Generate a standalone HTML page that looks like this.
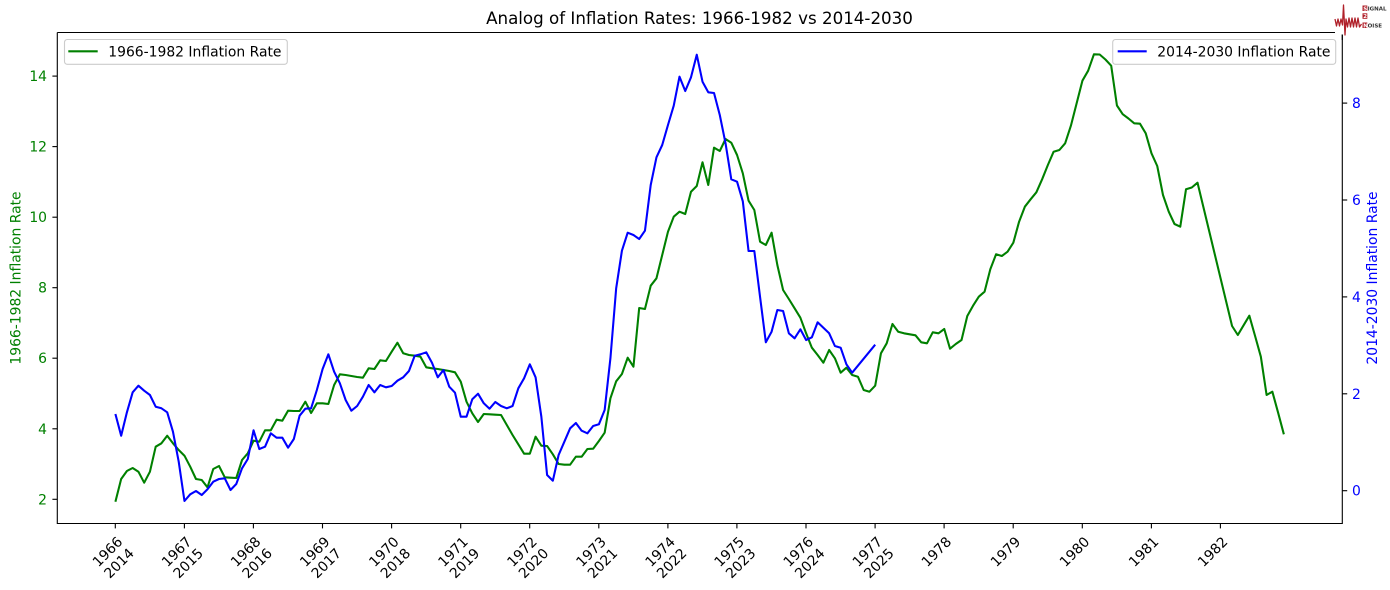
<!DOCTYPE html>
<html>
<head>
<meta charset="utf-8">
<style>
  html, body { margin: 0; padding: 0; background: #ffffff; }
  svg { display: block; }
  text { font-family: "DejaVu Sans", "Liberation Sans", sans-serif; }
</style>
</head>
<body>
<svg width="1390" height="590" viewBox="0 0 1390 590" xmlns="http://www.w3.org/2000/svg">
  <rect x="0" y="0" width="1390" height="590" fill="#ffffff"/>

  <!-- Title -->
  <text x="699.5" y="24" font-size="16.7" text-anchor="middle" fill="#000">Analog of Inflation Rates: 1966-1982 vs 2014-2030</text>

  <!-- Series (x = 115.4 + 5.756*i) -->
  <g transform="translate(115.4,0) scale(5.756,1)">
    <polyline fill="none" stroke="#008000" stroke-width="2.08" stroke-linejoin="round" vector-effect="non-scaling-stroke"
      points="0,501.7 1,479 2,471 3,468 4,471.7 5,482.7 6,471.7 7,446.7 8,443.3 9,435.7 10,443.3 11,450 12,455.7 13,466.7 14,479 15,480 16,487.3 17,469 18,466 19,477.3 20,477.7 21,478 22,460 23,453.3 24,440.7 25,441.7 26,430.3 27,430.3 28,419.7 29,420.7 30,410.7 31,411 32,411 33,401.7 34,413 35,403.3 36,403.3 37,404 38,385 39,374.3 40,375 41,376 42,377 43,377.7 44,368.3 45,369 46,360.3 47,361 48,351.7 49,342.7 50,353.3 51,355 52,355.7 53,356.7 54,367.3 55,368.3 56,369 57,370 58,371 59,372.3 60,381.7 61,401.7 62,413.3 63,422 64,414 65,414.3 66,414.7 67,415 68,425 69,435 70,444.3 71,453.7 72,453.7 73,436.7 74,445.7 75,446 76,454.3 77,464 78,464.7 79,464.7 80,456.7 81,456.7 82,449 83,448.7 84,441 85,432.7 86,398.3 87,381.3 88,374 89,357.7 90,366.7 91,308 92,309 93,285.7 94,278.3 95,255 96,231.7 97,216.7 98,211.7 99,214 100,191.7 101,186 102,162.3 103,185 104,147.7 105,151 106,139 107,142.7 108,155 109,173.3 110,200.7 111,210 112,241.7 113,245 114,232.7 115,265 116,290 117,299 118,308.3 119,317.7 120,333.3 121,347.7 122,355 123,362.7 124,350 125,358.3 126,372.7 127,367.7 128,375 129,376.7 130,390 131,391.7 132,385.7 133,353.3 134,343.3 135,324 136,331.7 137,333.3 138,334.3 139,335.3 140,342.3 141,343.3 142,332.3 143,333.3 144,329 145,348.7 146,344 147,340 148,316 149,305.7 150,296.7 151,291.7 152,269.3 153,254.3 154,256 155,251.7 156,242.7 157,221.7 158,206.7 159,199.3 160,192.3 161,179.3 162,165 163,151.7 164,150 165,143.3 166,125.7 167,103.3 168,80.7 169,70.7 170,54.3 171,54.5 172,59.5 173,65.7 174,105.5 175,114.2 176,118.5 177,123.3 178,123.7 179,133.3 180,153.3 181,166 182,195 183,211.7 184,224 185,226.7 186,189.3 187,187.5 188,182.7 189,206.6 190,230.5 191,254.4 192,278.2 193,302.1 194,326 195,335 196,325.3 197,315.7 198,336 199,356.7 200,395 201,391.7 202,412.7 203,434.3"/>
    <polyline fill="none" stroke="#0000ff" stroke-width="2.08" stroke-linejoin="round" vector-effect="non-scaling-stroke"
      points="0,414 1,435.7 2,412.3 3,392.3 4,385.7 5,390.7 6,395 7,406.7 8,408.3 9,412.3 10,431.7 11,461.7 12,501 13,494.3 14,491 15,495 16,489.3 17,481.7 18,479 19,478.3 20,490 21,484 22,468.3 23,459 24,430.3 25,449 26,446.7 27,433.3 28,437.7 29,437.7 30,447.7 31,439 32,415.7 33,408.7 34,408.3 35,390 36,369 37,354.3 38,371.7 39,383.3 40,400 41,410.7 42,406 43,396.7 44,385 45,392.3 46,385 47,387.3 48,386 49,380.7 50,377.3 51,371 52,355.7 53,354.3 54,352.3 55,362.7 56,377.3 57,370 58,386.7 59,392.7 60,416.7 61,416.7 62,399.3 63,393.7 64,403.3 65,408.7 66,402 67,406 68,408.3 69,406 70,388.3 71,378.3 72,364.3 73,377.3 74,416.7 75,475 76,480.7 77,455 78,441.7 79,428.3 80,423 81,430.7 82,433.3 83,426 84,424.3 85,410 86,358.3 87,288.3 88,250.7 89,232.7 90,235 91,239 92,230.7 93,185 94,157.3 95,145 96,125 97,105.7 98,76.7 99,91 100,77.3 101,54.7 102,81.7 103,92.3 104,93 105,115 106,143.3 107,179.3 108,181.7 109,201.3 110,251 111,251 112,297 113,342.3 114,331.7 115,310 116,311 117,333.3 118,338.3 119,329.3 120,340 121,337.3 122,322.3 123,327.7 124,333.3 125,346 126,347.7 127,364.3 128,372.7 129,365.7 130,358.7 131,351.7 132,344.7"/>
  </g>

  <!-- Spines -->
  <g stroke="#000" stroke-width="1.11" fill="none">
    <line x1="57.3" y1="32.5" x2="57.3" y2="524"/>
    <line x1="1342.3" y1="32.5" x2="1342.3" y2="524"/>
    <line x1="57.3" y1="523.5" x2="1342.3" y2="523.5"/>
    <line x1="57.3" y1="32.5" x2="1342.3" y2="32.5"/>
  </g>

  <!-- Left y ticks -->
  <g stroke="#000" stroke-width="1.11">
    <line x1="52.4" y1="499.3" x2="57.3" y2="499.3"/>
    <line x1="52.4" y1="428.8" x2="57.3" y2="428.8"/>
    <line x1="52.4" y1="358.2" x2="57.3" y2="358.2"/>
    <line x1="52.4" y1="287.7" x2="57.3" y2="287.7"/>
    <line x1="52.4" y1="217.2" x2="57.3" y2="217.2"/>
    <line x1="52.4" y1="146.6" x2="57.3" y2="146.6"/>
    <line x1="52.4" y1="76.1" x2="57.3" y2="76.1"/>
  </g>
  <g font-size="13.9" fill="#008000" text-anchor="end">
    <text x="47" y="504.3">2</text>
    <text x="47" y="433.8">4</text>
    <text x="47" y="363.2">6</text>
    <text x="47" y="292.7">8</text>
    <text x="47" y="222.2">10</text>
    <text x="47" y="151.6">12</text>
    <text x="47" y="81.1">14</text>
  </g>

  <!-- Right y ticks -->
  <g stroke="#000" stroke-width="1.11">
    <line x1="1342.3" y1="490.7" x2="1347.2" y2="490.7"/>
    <line x1="1342.3" y1="393.8" x2="1347.2" y2="393.8"/>
    <line x1="1342.3" y1="296.9" x2="1347.2" y2="296.9"/>
    <line x1="1342.3" y1="200" x2="1347.2" y2="200"/>
    <line x1="1342.3" y1="103.1" x2="1347.2" y2="103.1"/>
  </g>
  <g font-size="13.9" fill="#0000ff" text-anchor="start">
    <text x="1352" y="495.7">0</text>
    <text x="1352" y="398.8">2</text>
    <text x="1352" y="301.9">4</text>
    <text x="1352" y="205">6</text>
    <text x="1352" y="108.1">8</text>
  </g>

  <!-- Axis labels -->
  <text transform="translate(20.7,278) rotate(-90)" font-size="13.9" fill="#008000" text-anchor="middle">1966-1982 Inflation Rate</text>
  <text transform="translate(1377,278) rotate(-90)" font-size="13.9" fill="#0000ff" text-anchor="middle">2014-2030 Inflation Rate</text>

  <!-- X ticks -->
  <g stroke="#000" stroke-width="1.11">
    <line x1="115.3" y1="523.5" x2="115.3" y2="528.4"/>
    <line x1="184.4" y1="523.5" x2="184.4" y2="528.4"/>
    <line x1="253.4" y1="523.5" x2="253.4" y2="528.4"/>
    <line x1="322.5" y1="523.5" x2="322.5" y2="528.4"/>
    <line x1="391.6" y1="523.5" x2="391.6" y2="528.4"/>
    <line x1="460.7" y1="523.5" x2="460.7" y2="528.4"/>
    <line x1="529.7" y1="523.5" x2="529.7" y2="528.4"/>
    <line x1="598.8" y1="523.5" x2="598.8" y2="528.4"/>
    <line x1="667.9" y1="523.5" x2="667.9" y2="528.4"/>
    <line x1="736.9" y1="523.5" x2="736.9" y2="528.4"/>
    <line x1="806" y1="523.5" x2="806" y2="528.4"/>
    <line x1="875.1" y1="523.5" x2="875.1" y2="528.4"/>
    <line x1="944.1" y1="523.5" x2="944.1" y2="528.4"/>
    <line x1="1013.2" y1="523.5" x2="1013.2" y2="528.4"/>
    <line x1="1082.3" y1="523.5" x2="1082.3" y2="528.4"/>
    <line x1="1151.4" y1="523.5" x2="1151.4" y2="528.4"/>
    <line x1="1220.4" y1="523.5" x2="1220.4" y2="528.4"/>
  </g>
  <g font-size="13.9" fill="#000" text-anchor="middle">
    <g transform="translate(113.1,557.3) rotate(-45)"><text x="0" y="-3.1">1966</text><text x="0" y="13.2">2014</text></g>
    <g transform="translate(182.2,557.3) rotate(-45)"><text x="0" y="-3.1">1967</text><text x="0" y="13.2">2015</text></g>
    <g transform="translate(251.2,557.3) rotate(-45)"><text x="0" y="-3.1">1968</text><text x="0" y="13.2">2016</text></g>
    <g transform="translate(320.3,557.3) rotate(-45)"><text x="0" y="-3.1">1969</text><text x="0" y="13.2">2017</text></g>
    <g transform="translate(389.4,557.3) rotate(-45)"><text x="0" y="-3.1">1970</text><text x="0" y="13.2">2018</text></g>
    <g transform="translate(458.5,557.3) rotate(-45)"><text x="0" y="-3.1">1971</text><text x="0" y="13.2">2019</text></g>
    <g transform="translate(527.5,557.3) rotate(-45)"><text x="0" y="-3.1">1972</text><text x="0" y="13.2">2020</text></g>
    <g transform="translate(596.6,557.3) rotate(-45)"><text x="0" y="-3.1">1973</text><text x="0" y="13.2">2021</text></g>
    <g transform="translate(665.7,557.3) rotate(-45)"><text x="0" y="-3.1">1974</text><text x="0" y="13.2">2022</text></g>
    <g transform="translate(734.7,557.3) rotate(-45)"><text x="0" y="-3.1">1975</text><text x="0" y="13.2">2023</text></g>
    <g transform="translate(803.8,557.3) rotate(-45)"><text x="0" y="-3.1">1976</text><text x="0" y="13.2">2024</text></g>
    <g transform="translate(872.9,557.3) rotate(-45)"><text x="0" y="-3.1">1977</text><text x="0" y="13.2">2025</text></g>
    <g transform="translate(941.9,557.3) rotate(-45)"><text x="0" y="-3.1">1978</text></g>
    <g transform="translate(1011,557.3) rotate(-45)"><text x="0" y="-3.1">1979</text></g>
    <g transform="translate(1080.1,557.3) rotate(-45)"><text x="0" y="-3.1">1980</text></g>
    <g transform="translate(1149.2,557.3) rotate(-45)"><text x="0" y="-3.1">1981</text></g>
    <g transform="translate(1218.2,557.3) rotate(-45)"><text x="0" y="-3.1">1982</text></g>
  </g>

  <!-- Legends -->
  <rect x="64.5" y="39.5" width="222.8" height="24.8" rx="2.8" ry="2.8" fill="#ffffff" fill-opacity="0.8" stroke="#cccccc" stroke-width="1.1"/>
  <line x1="68.3" y1="51.3" x2="97.7" y2="51.3" stroke="#008000" stroke-width="2.08"/>
  <text x="108.3" y="56.3" font-size="13.9" fill="#000">1966-1982 Inflation Rate</text>

  <rect x="1112.7" y="39.5" width="223" height="24.8" rx="2.8" ry="2.8" fill="#ffffff" fill-opacity="0.8" stroke="#cccccc" stroke-width="1.1"/>
  <line x1="1117.7" y1="51.3" x2="1146.7" y2="51.3" stroke="#0000ff" stroke-width="2.08"/>
  <text x="1157.3" y="56.3" font-size="13.9" fill="#000">2014-2030 Inflation Rate</text>

  <!-- Logo -->
  <rect x="1335" y="0" width="55" height="34.5" fill="#ffffff"/>
  <line x1="1342.3" y1="34.5" x2="1342.3" y2="40" stroke="#000" stroke-width="1.11"/>
  <polyline fill="none" stroke="#b0202a" stroke-width="1.3" stroke-linejoin="round"
    points="1335,19 1336.5,26 1338,19 1339.5,26 1341,19 1342.5,25 1343.5,5 1345,35 1346,19 1347.5,27 1349,18 1350.5,27 1352,18 1353.5,27 1355,18 1356.5,27 1358,18 1359.5,27 1361.5,24"/>
  <rect x="1362.5" y="5.5" width="4.8" height="5.5" fill="#b0202a"/>
  <rect x="1362.5" y="13.3" width="4.8" height="5.5" fill="#b0202a"/>
  <rect x="1362.5" y="22.5" width="4.8" height="5.5" fill="#b0202a"/>
  <g font-size="5.5" font-weight="bold">
    <text x="1363.3" y="10.3" fill="#ffffff">S</text>
    <text x="1367.6" y="10.3" fill="#333">IGNAL</text>
    <text x="1363.3" y="18.1" fill="#ffffff">2</text>
    <text x="1363.3" y="27.3" fill="#ffffff">N</text>
    <text x="1367.6" y="27.3" fill="#333">OISE</text>
  </g>
</svg>
</body>
</html>
